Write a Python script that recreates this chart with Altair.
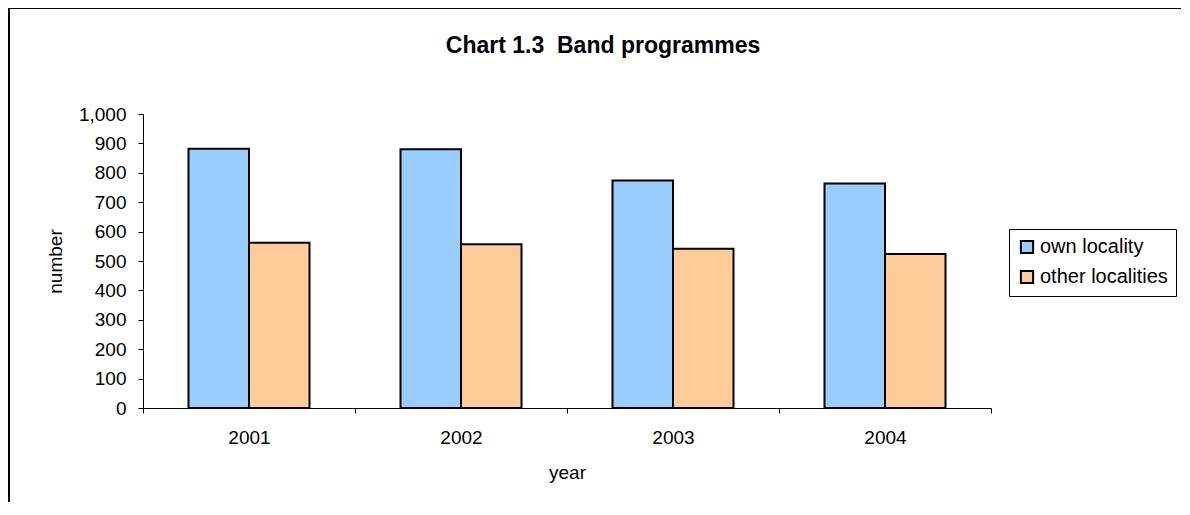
import altair as alt
import pandas as pd

years = ["2001", "2002", "2003", "2004"]
own_locality = [882, 880, 774, 764]
other_localities = [562, 557, 542, 524]
series_names = ["own locality", "other localities"]
series_colors = ["#99CCFF", "#FFCC99"]
y_ticks = [0, 100, 200, 300, 400, 500, 600, 700, 800, 900, 1000]

rows = []
for i, yr in enumerate(years):
    rows.append({"year": yr, "series": series_names[0], "value": own_locality[i]})
    rows.append({"year": yr, "series": series_names[1], "value": other_localities[i]})
df = pd.DataFrame(rows)

FONT = "Liberation Sans"
W, H = 848, 294
LBL = 19

bars = alt.Chart(df).mark_bar(stroke="black", strokeWidth=2).encode(
    x=alt.X("year:N", sort=years, title="year",
            scale=alt.Scale(paddingInner=0, paddingOuter=0),
            axis=alt.Axis(labelAngle=0, labelFontSize=LBL, labelColor="black",
                          titleFontSize=LBL, titleFontWeight="normal", titleColor="black",
                          domainColor="black", tickColor="black", tickSize=5,
                          tickBand="extent", labelPadding=15, titlePadding=16,
                          grid=False)),
    xOffset=alt.XOffset("series:N", sort=series_names,
                        scale=alt.Scale(paddingInner=0, paddingOuter=0.752)),
    y=alt.Y("value:Q", title="number",
            scale=alt.Scale(domain=[0, 1000], nice=False),
            axis=alt.Axis(values=y_ticks, format=",.0f", labelFontSize=LBL, labelColor="black",
                          titleFontSize=LBL, titleFontWeight="normal", titleColor="black",
                          domainColor="black", tickColor="black", tickSize=5,
                          labelPadding=12, grid=False, titleX=-82,
                          titleBaseline="alphabetic")),
    color=alt.Color("series:N", sort=series_names,
                    scale=alt.Scale(domain=series_names, range=series_colors),
                    legend=alt.Legend(title=None, orient="none", legendX=866, legendY=115,
                                      symbolType="square", symbolSize=150,
                                      symbolStrokeColor="black", symbolStrokeWidth=2,
                                      labelFontSize=20, labelColor="black", labelFont=FONT,
                                      strokeColor="black", padding=8, rowPadding=8,
                                      labelOffset=3)),
)

one = pd.DataFrame({"a": [0]})
border = alt.Chart(one).mark_rect(fill="transparent", stroke="black", strokeWidth=2, clip=False).encode(
    x=alt.value(-134), x2=alt.value(1060), y=alt.value(-106), y2=alt.value(420)
)
title = alt.Chart(one).mark_text(fontSize=23, fontWeight="bold", font=FONT, color="black",
                                 baseline="alphabetic", align="center").encode(
    x=alt.value(460), y=alt.value(-61), text=alt.value("Chart 1.3\u00a0 Band programmes")
)

chart = alt.layer(border, bars, title).properties(
    width=W, height=H,
    autosize=alt.AutoSizeParams(type="none"),
    padding={"left": 135, "top": 106, "right": 190, "bottom": 94},
).configure(font=FONT).configure_view(stroke=None).configure_axis(labelFont=FONT, titleFont=FONT)

chart.save("out.html", embed_options={"renderer": "svg", "actions": False})
